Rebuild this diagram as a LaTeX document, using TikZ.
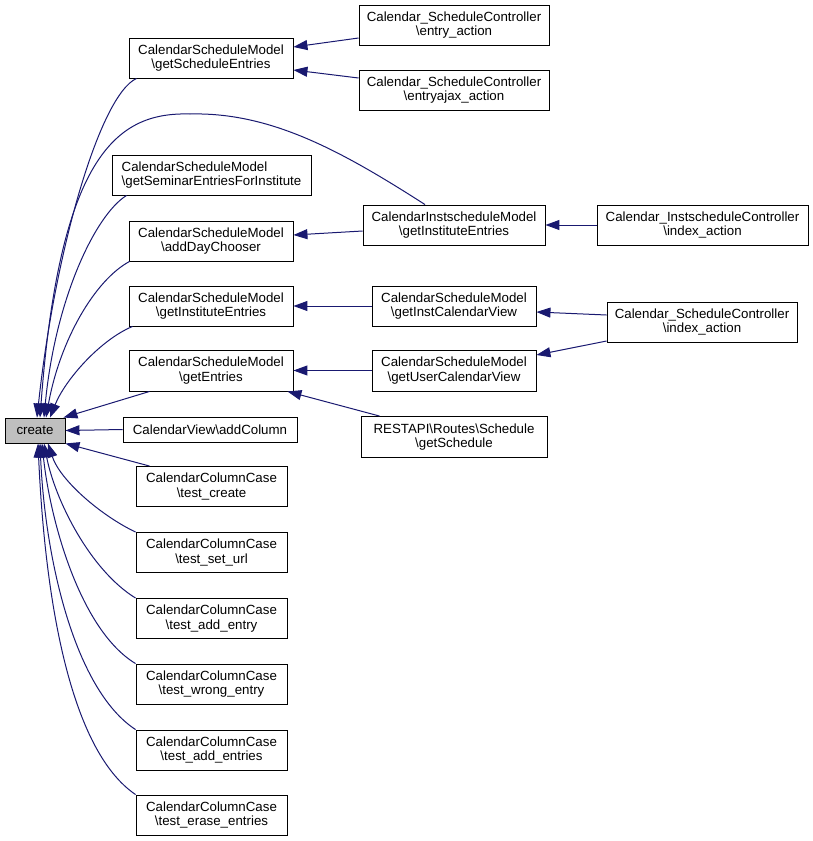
\documentclass[tikz,border=0pt]{standalone}
\usepackage{fontspec}
\setmainfont{Liberation Sans}
\usetikzlibrary{arrows.meta}
\definecolor{edgeblue}{HTML}{191970}
\definecolor{grayfill}{HTML}{BFBFBF}
\newcommand{\BSx}{\textbackslash{}}
\begin{document}
\begin{tikzpicture}[x=1pt,y=-1pt,
  fn/.style={draw=black, line width=0.9pt, fill=white, inner sep=0pt, align=center,
    font=\fontsize{13.3}{14.5}\selectfont},
  sz/.style 2 args={minimum width=#1pt, minimum height=#2pt},
  edge/.style={draw=edgeblue, line width=1pt, -{Triangle[length=14pt,width=10pt]}}]
\useasboundingbox (0,0) rectangle (813,841);
% nodes
\node[fn, sz={60}{25}, fill=grayfill] (create) at (35,430.5) {create};
\node[fn, sz={164}{40}] (gSE) at (211,58) {CalendarScheduleModel\\\BSx getScheduleEntries};
\node[fn, sz={199}{40}, align=left] (gSEFI) at (211.5,175) {CalendarScheduleModel\\\BSx getSeminarEntriesForInstitute};
\node[fn, sz={164}{40}] (aDC) at (211,241) {CalendarScheduleModel\\\BSx addDayChooser};
\node[fn, sz={164}{40}] (gIE) at (211,306) {CalendarScheduleModel\\\BSx getInstituteEntries};
\node[fn, sz={164}{41}] (gE) at (211,370.5) {CalendarScheduleModel\\\BSx getEntries};
\node[fn, sz={174}{25}] (addCol) at (210,429.5) {CalendarView\BSx addColumn};
\node[fn, sz={151}{40}] (tc) at (211.5,486.5) {CalendarColumnCase\\\BSx test\_create};
\node[fn, sz={151}{40}] (tsu) at (211.5,552.5) {CalendarColumnCase\\\BSx test\_set\_url};
\node[fn, sz={151}{40}] (tae) at (211.5,618.5) {CalendarColumnCase\\\BSx test\_add\_entry};
\node[fn, sz={151}{40}] (twe) at (211.5,684) {CalendarColumnCase\\\BSx test\_wrong\_entry};
\node[fn, sz={151}{40}] (taes) at (211.5,750) {CalendarColumnCase\\\BSx test\_add\_entries};
\node[fn, sz={151}{40}] (tee) at (211.5,815) {CalendarColumnCase\\\BSx test\_erase\_entries};
\node[fn, sz={190}{40}] (ea) at (454,25) {Calendar\_ScheduleController\\\BSx entry\_action};
\node[fn, sz={190}{40}] (eaa) at (454,90) {Calendar\_ScheduleController\\\BSx entryajax\_action};
\node[fn, sz={182}{40}] (iGIE) at (454,225) {CalendarInstscheduleModel\\\BSx getInstituteEntries};
\node[fn, sz={164}{40}] (gICV) at (454,306) {CalendarScheduleModel\\\BSx getInstCalendarView};
\node[fn, sz={164}{41}] (gUCV) at (454,370.5) {CalendarScheduleModel\\\BSx getUserCalendarView};
\node[fn, sz={186}{41}] (rest) at (454,437) {RESTAPI\BSx Routes\BSx Schedule\\\BSx getSchedule};
\node[fn, sz={211}{40}] (ISC) at (702.5,225) {Calendar\_InstscheduleController\\\BSx index\_action};
\node[fn, sz={190}{40}] (SCi) at (702,322) {Calendar\_ScheduleController\\\BSx index\_action};
% edges into create (top)
\draw[edge] ([xshift=8pt]gSE.south west) .. controls (100,95) and (55,250) .. ([xshift=2pt]create.north);
\draw[edge] ([xshift=-29pt]iGIE.north) .. controls (340,150) and (270,112) .. (190,114)
   .. controls (120,112) and (60,150) .. ([xshift=5pt]create.north);
\draw[edge] ([xshift=15pt]gSEFI.south west) .. controls (95,215) and (55,300) .. ([xshift=9pt]create.north);
\draw[edge] ([xshift=1pt]aDC.south west) .. controls (95,280) and (60,340) .. ([xshift=11pt]create.north);
\draw[edge] ([xshift=4pt]gIE.south west) .. controls (100,340) and (65,380) .. ([xshift=15pt]create.north);
\draw[edge] ([xshift=21pt]gE.south west) -- ([xshift=-2pt]create.north east);
\draw[edge] (addCol.west) -- (create.east);
\draw[edge] ([xshift=14pt]tc.north west) -- (create.south east);
% edges into create (bottom)
\draw[edge] (tsu.north west) .. controls (100,515) and (60,480) .. ([xshift=13pt]create.south);
\draw[edge] (tae.north west) .. controls (90,570) and (55,500) .. ([xshift=9pt]create.south);
\draw[edge] (twe.north west) .. controls (80,630) and (50,520) .. ([xshift=7pt]create.south);
\draw[edge] (taes.north west) .. controls (75,690) and (45,560) .. ([xshift=5pt]create.south);
\draw[edge] (tee.north west) .. controls (70,750) and (45,600) .. ([xshift=3pt]create.south);
% right side edges
\draw[edge] ([yshift=-13pt]ea.west) -- ([yshift=11pt]gSE.east);
\draw[edge] ([yshift=12pt]eaa.west) -- ([yshift=-12pt]gSE.east);
\draw[edge] ([yshift=-6pt]iGIE.west) -- ([yshift=6pt]aDC.east);
\draw[edge] (ISC.west) -- (iGIE.east);
\draw[edge] (gICV.west) -- (gIE.east);
\draw[edge] ([yshift=7pt]SCi.west) -- ([yshift=-6pt]gICV.east);
\draw[edge] ([yshift=-19pt]SCi.west) -- ([yshift=15.5pt]gUCV.east);
\draw[edge] (gUCV.west) -- (gE.east);
\draw[edge] ([xshift=19pt]rest.north west) -- ([xshift=-6pt]gE.south east);
\end{tikzpicture}
\end{document}
